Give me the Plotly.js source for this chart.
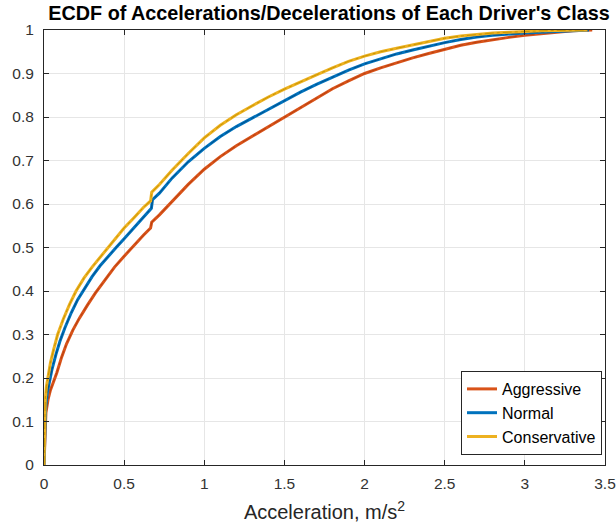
<!DOCTYPE html>
<html>
<head>
<meta charset="utf-8">
<script src="https://cdn.plot.ly/plotly-3.0.1.min.js"></script>
<style>html,body{margin:0;padding:0;background:#fff;}#chart{width:616px;height:531px;}</style>
</head>
<body>
<div id="chart"></div>
<script>
// Series names
const seriesNames = ["Aggressive", "Normal", "Conservative"];

// Aggressive (red)
const aggX = [0, 0.005, 0.012, 0.025, 0.04, 0.06, 0.08, 0.11, 0.14, 0.18, 0.22, 0.27, 0.32, 0.38, 0.44, 0.5, 0.56, 0.62, 0.665, 0.672, 0.72, 0.8, 0.9, 1.0, 1.1, 1.2, 1.3, 1.4, 1.5, 1.6, 1.7, 1.8, 1.9, 2.0, 2.1, 2.2, 2.3, 2.4, 2.5, 2.6, 2.7, 2.8, 2.9, 3.0, 3.1, 3.2, 3.3, 3.42];
const aggY = [0, 0.08, 0.12, 0.15, 0.172, 0.192, 0.212, 0.248, 0.278, 0.31, 0.337, 0.367, 0.395, 0.425, 0.455, 0.48, 0.505, 0.528, 0.545, 0.558, 0.575, 0.607, 0.645, 0.68, 0.709, 0.734, 0.756, 0.778, 0.8, 0.823, 0.845, 0.865, 0.883, 0.9, 0.913, 0.925, 0.936, 0.946, 0.956, 0.965, 0.972, 0.978, 0.983, 0.988, 0.992, 0.995, 0.998, 1];

// Normal (blue)
const norX = [0, 0.004, 0.01, 0.02, 0.035, 0.05, 0.075, 0.1, 0.13, 0.17, 0.21, 0.25, 0.3, 0.35, 0.4, 0.45, 0.5, 0.56, 0.62, 0.67, 0.677, 0.72, 0.8, 0.9, 1.0, 1.1, 1.2, 1.3, 1.4, 1.5, 1.6, 1.7, 1.8, 1.9, 2.0, 2.1, 2.2, 2.3, 2.4, 2.5, 2.6, 2.7, 2.8, 2.9, 3.0, 3.1, 3.2, 3.3, 3.4];
const norY = [0, 0.09, 0.13, 0.165, 0.195, 0.22, 0.255, 0.285, 0.315, 0.35, 0.38, 0.405, 0.433, 0.458, 0.48, 0.5, 0.52, 0.545, 0.568, 0.59, 0.61, 0.625, 0.66, 0.697, 0.728, 0.755, 0.778, 0.798, 0.818, 0.838, 0.857, 0.875, 0.892, 0.908, 0.922, 0.934, 0.945, 0.954, 0.963, 0.971, 0.978, 0.984, 0.988, 0.991, 0.993, 0.995, 0.997, 0.999, 1];

// Conservative (yellow)
const conX = [0, 0.003, 0.008, 0.015, 0.025, 0.04, 0.06, 0.085, 0.12, 0.16, 0.2, 0.25, 0.3, 0.35, 0.4, 0.45, 0.5, 0.56, 0.62, 0.665, 0.672, 0.72, 0.8, 0.9, 1.0, 1.1, 1.2, 1.3, 1.4, 1.5, 1.6, 1.7, 1.8, 1.9, 2.0, 2.1, 2.2, 2.3, 2.4, 2.5, 2.6, 2.7, 2.8, 2.9, 3.0, 3.1, 3.2, 3.3, 3.39];
const conY = [0, 0.1, 0.15, 0.18, 0.205, 0.235, 0.265, 0.3, 0.335, 0.37, 0.4, 0.43, 0.455, 0.478, 0.5, 0.523, 0.545, 0.568, 0.592, 0.607, 0.627, 0.645, 0.678, 0.716, 0.752, 0.781, 0.805, 0.826, 0.846, 0.864, 0.881, 0.897, 0.913, 0.928, 0.94, 0.95, 0.958, 0.966, 0.974, 0.981, 0.986, 0.99, 0.993, 0.995, 0.997, 0.998, 0.999, 0.9995, 1];

const xTicks = [0, 0.5, 1, 1.5, 2, 2.5, 3, 3.5];
const xTickText = ["0", "0.5", "1", "1.5", "2", "2.5", "3", "3.5"];
const yTicks = [0, 0.1, 0.2, 0.3, 0.4, 0.5, 0.6, 0.7, 0.8, 0.9, 1];
const yTickText = ["0", "0.1", "0.2", "0.3", "0.4", "0.5", "0.6", "0.7", "0.8", "0.9", "1"];

const colors = ["#D95319", "#0072BD", "#EDB120"];
const darkColors = ["#B8410F", "#00508A", "#C99500"];
const xs = [aggX, norX, conX];
const ys = [aggY, norY, conY];

const traces = [];
for (let i = 0; i < 3; i++) {
  traces.push({
    x: xs[i], y: ys[i], type: "scatter", mode: "lines", name: seriesNames[i],
    legendgroup: seriesNames[i],
    line: {color: colors[i], width: 3}
  });
  traces.push({
    x: xs[i], y: ys[i], type: "scatter", mode: "lines", name: seriesNames[i],
    legendgroup: seriesNames[i], showlegend: false,
    line: {color: darkColors[i], width: 1, dash: "dashdot"}
  });
}

const FONT = "Liberation Sans, Arial, sans-serif";
const axisCommon = {
  showline: true, linecolor: "#262626", linewidth: 1, mirror: "ticks",
  ticks: "inside", ticklen: 5, tickcolor: "#262626",
  showgrid: true, gridcolor: "#e6e6e6", gridwidth: 1,
  zeroline: false, ticklabeloverflow: "allow",
  tickfont: {family: FONT, size: 15.5, color: "#333333"}
};

const layout = {
  width: 616, height: 531,
  margin: {l: 44, r: 11, t: 30, b: 66},
  paper_bgcolor: "#fff", plot_bgcolor: "#fff",
  showlegend: true,
  title: {
    text: "<b>ECDF of Accelerations/Decelerations of Each Driver's Class</b>",
    font: {family: FONT, size: 19.8, color: "#000"},
    x: 0.508, xref: "paper", y: 0.975, yref: "container", yanchor: "middle"
  },
  xaxis: Object.assign({}, axisCommon, {
    range: [0, 3.5], tickvals: xTicks, ticktext: xTickText, ticklabelstandoff: 4,
    title: {text: "Acceleration, m/s<sup>2</sup>", font: {family: FONT, size: 20, color: "#262626"}, standoff: 14}
  }),
  yaxis: Object.assign({}, axisCommon, {
    range: [0, 1], tickvals: yTicks, ticktext: yTickText, ticklabelstandoff: 6
  }),
  legend: {
    x: 0.9947, xanchor: "right", y: 0.023, yanchor: "bottom",
    bgcolor: "#fff", bordercolor: "#262626", borderwidth: 1,
    font: {family: FONT, size: 16, color: "#000"},
    tracegroupgap: 0
  }
};

Plotly.newPlot("chart", traces, layout, {displayModeBar: false, staticPlot: true});
</script>
</body>
</html>
